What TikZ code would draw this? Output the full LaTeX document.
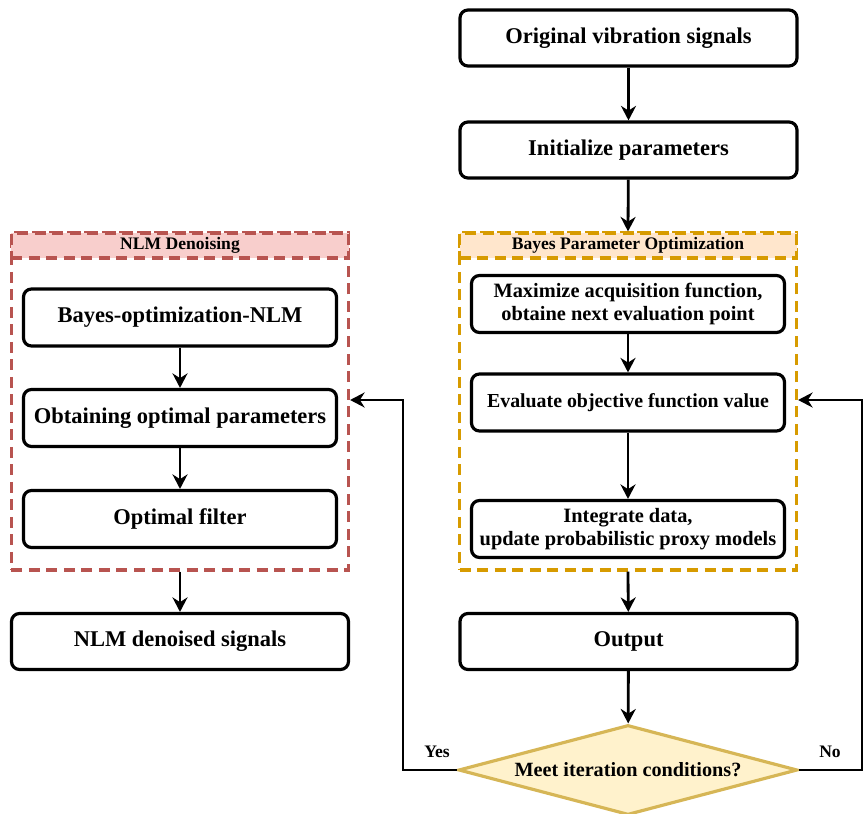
\documentclass[tikz,border=0pt]{standalone}
\usepackage{fontspec}
\setmainfont{Liberation Serif}
\usetikzlibrary{arrows.meta,positioning,shapes.geometric}
\definecolor{nlmline}{HTML}{B85450}
\definecolor{nlmfill}{HTML}{F8CECC}
\definecolor{bayline}{HTML}{D79B00}
\definecolor{bayfill}{HTML}{FFE6CC}
\definecolor{condline}{HTML}{D6B656}
\definecolor{condfill}{HTML}{FFF2CC}

\begin{document}
\begin{tikzpicture}[x=0.2mm,y=-0.2mm,>={Stealth[length=2.9mm,width=3mm]},
  font=\bfseries\fontsize{12.8}{14.5}\selectfont,
  box/.style={draw,line width=1.8pt,rounded corners=1.6mm,minimum height=11.2mm,minimum width=67.4mm,align=center},
  inbox/.style={box,minimum width=62.6mm,minimum height=11.4mm},
  small/.style={font=\bfseries\fontsize{11.6}{13.4}\selectfont},
  frame/.style={draw,line width=1.8pt,dash pattern=on 2.2mm off 1.3mm,minimum width=67.4mm,minimum height=67.4mm},
  head/.style={frame,minimum height=5mm,inner sep=0pt,font=\bfseries\fontsize{10}{12}\selectfont},
  cond/.style={diamond,draw=condline,fill=condfill,line width=1.8pt,aspect=3.8,inner sep=0pt,minimum width=67.8mm,minimum height=18mm,font=\bfseries\fontsize{11.5}{13}\selectfont},
  lbl/.style={anchor=south,font=\bfseries\fontsize{10}{12}\selectfont},
  flow/.style={->,line width=1.6pt}]
\useasboundingbox (0,0) rectangle (864,814);
% right column
\node[box] (orig) at (628.5,38) {Original vibration signals};
\node[box] (init) at (628.5,150) {Initialize parameters};
\node[frame,draw=bayline] (baybox) at (628,401.5) {};
\node[head,draw=bayline,fill=bayfill,anchor=north] (bayhead) at (baybox.north) {Bayes Parameter Optimization};
\node[inbox,small] (maxim) at (628,304) {Maximize acquisition function,\\obtaine next evaluation point};
\node[inbox,font=\bfseries\fontsize{11.3}{13}\selectfont] (eval) at (628,402.5) {Evaluate objective function value};
\node[inbox,small] (integ) at (628,529) {Integrate data,\\update probabilistic proxy models};
\node[box] (output) at (628.5,641.5) {Output};
\node[cond] (meet) at (628,770) {Meet iteration conditions?};
% left column
\node[frame,draw=nlmline] (nlmbox) at (180,401.5) {};
\node[head,draw=nlmline,fill=nlmfill,anchor=north] (nlmhead) at (nlmbox.north) {NLM Denoising};
\node[inbox] (bnlm) at (180,317.5) {Bayes-optimization-NLM};
\node[inbox] (optpar) at (180,418) {Obtaining optimal parameters};
\node[inbox] (optfil) at (180,519) {Optimal filter};
\node[box] (denoised) at (180,641.5) {NLM denoised signals};
\coordinate (yescorner) at (403,770);
\coordinate (nocorner) at (862,770);
% connectors
\draw[flow] (orig) -- (init);
\draw[flow] (init) -- (baybox.north);
\draw[flow] (maxim) -- (eval);
\draw[flow] (eval) -- (integ);
\draw[flow] (baybox.south) -- (output);
\draw[flow] (output) -- (meet);
\draw[flow] (bnlm) -- (optpar);
\draw[flow] (optpar) -- (optfil);
\draw[flow] (nlmbox.south) -- (denoised);
\draw[flow] (meet.west) -- (yescorner) |- (nlmbox.east |- 0,400);
\draw[flow] (meet.east) -- (nocorner) |- (baybox.east |- 0,400);
\node[lbl] (yes) at (437,764) {Yes};
\node[lbl] (no) at (830,764) {No};
\end{tikzpicture}
\end{document}
